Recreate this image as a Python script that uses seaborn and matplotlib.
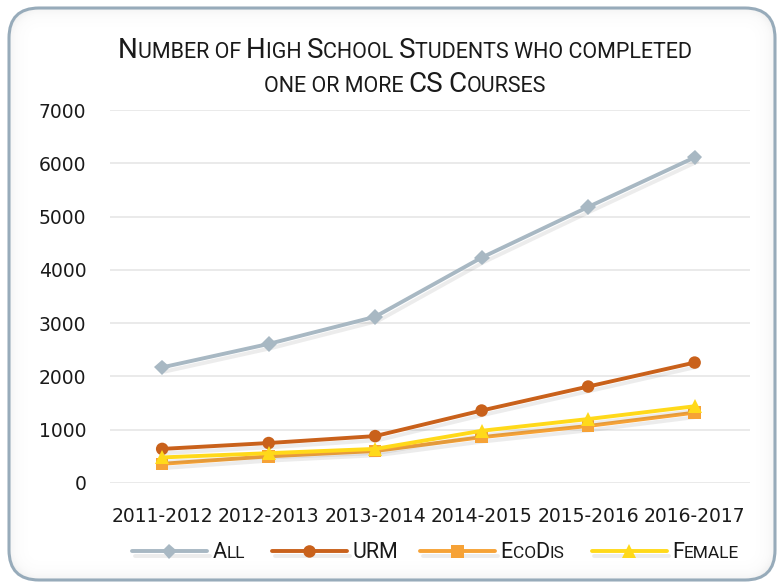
import numpy as np
import pandas as pd
import seaborn as sns
import matplotlib
matplotlib.use("Agg")
import matplotlib.pyplot as plt
from matplotlib import font_manager
from matplotlib.patches import FancyBboxPatch
import matplotlib.patheffects as pe

years = ['2011-2012', '2012-2013', '2013-2014', '2014-2015', '2015-2016', '2016-2017']
all_students = [2170, 2610, 3120, 4230, 5180, 6110]
urm = [640, 750, 880, 1360, 1810, 2260]
ecodis = [360, 500, 600, 860, 1070, 1320]
female = [480, 560, 640, 980, 1200, 1440]
series_names = ['All', 'URM', 'EcoDis', 'Female']
title_lines = ['Number of High School Students who completed', 'one or more CS Courses']
yticks = [0, 1000, 2000, 3000, 4000, 5000, 6000, 7000]

colors = {'All': '#A8B8C3', 'URM': '#C9611B', 'EcoDis': '#F6A236', 'Female': '#FFD91A'}
markers = {'All': 'D', 'URM': 'o', 'EcoDis': 's', 'Female': '^'}
msizes = {'All': 8, 'URM': 9, 'EcoDis': 9, 'Female': 10}

df = pd.DataFrame({
    'year': years * 4,
    'value': all_students + urm + ecodis + female,
    'series': sum([[n] * len(years) for n in series_names], []),
})

sns.set_theme(style='white')
avail = {f.name for f in font_manager.fontManager.ttflist}
tick_font = 'DejaVu Sans'
cond_font = 'Liberation Sans Narrow' if 'Liberation Sans Narrow' in avail else 'Roboto'
plt.rcParams['font.family'] = [tick_font]

W, H = 783, 586
fig = plt.figure(figsize=(W / 100, H / 100), dpi=100)
fig.patch.set_facecolor('white')

# Soft inner glow of the rounded frame (decorative background image)
fx0, fy0, fw, fh, rad = 9, 6, 766, 572, 30
yy, xx = np.mgrid[0:H, 0:W] + 0.5
cx, cy = fx0 + fw / 2, fy0 + fh / 2
qx = np.abs(xx - cx) - (fw / 2 - rad)
qy = np.abs(yy - cy) - (fh / 2 - rad)
dist = np.hypot(np.maximum(qx, 0), np.maximum(qy, 0)) + np.minimum(np.maximum(qx, qy), 0) - rad
glow = np.where(dist < 0, 0.10 * np.exp(dist / 6.0), 0.0)
rgba = np.zeros((H, W, 4))
rgba[..., :3] = 0.45
rgba[..., 3] = glow
fig.figimage(rgba, 0, 0, origin='lower', zorder=0)

fig.add_artist(FancyBboxPatch((fx0, fy0), fw, fh, boxstyle='round,pad=0,rounding_size=%d' % rad,
                              transform=None, facecolor='none', edgecolor='#97ABBA',
                              linewidth=2.2, zorder=1))

ax = fig.add_axes([110 / W, 1 - 483 / H, (750 - 110) / W, (483 - 110) / H])
ax.set_facecolor('none')

sns.lineplot(data=df, x='year', y='value', hue='series', style='series',
             palette=colors, markers=markers, dashes=False, sort=False,
             linewidth=2.8, markeredgewidth=0, ax=ax, legend=False)

shadow = [pe.SimpleLineShadow(offset=(2, -3), shadow_color='#666666', alpha=0.12), pe.Normal()]
for line, name in zip(ax.get_lines(), series_names):
    line.set_markersize(msizes[name])
    line.set_path_effects(shadow)
    line.set_clip_on(False)

ax.set_xlim(-0.49, 5.52)
ax.set_ylim(0, 7000)
ax.set_yticks(yticks)
ax.yaxis.grid(True, color='#E4E4E4', linewidth=1.1)
ax.xaxis.grid(False)
for s in ax.spines.values():
    s.set_visible(False)
ax.tick_params(axis='both', length=0, labelsize=13.5, labelcolor='#1a1a1a')
ax.tick_params(axis='y', pad=17)
ax.tick_params(axis='x', pad=17)
ax.set_xlabel('')
ax.set_ylabel('')

fig.canvas.draw()
renderer = fig.canvas.get_renderer()


def smallcaps(text, x_px, y_px, big, small, family, color='#1a1a1a', ha='center'):
    runs = []
    for ch in text:
        isbig = ch.isupper() or ch.isdigit()
        if runs and runs[-1][1] == isbig:
            runs[-1][0] += ch
        else:
            runs.append([ch, isbig])
    widths = []
    for s, b in runs:
        t = fig.text(0, 0, s.upper(), fontsize=big if b else small, family=family)
        widths.append(t.get_window_extent(renderer).width)
        t.remove()
    total = sum(widths)
    x = x_px - total / 2 if ha == 'center' else x_px
    for (s, b), w in zip(runs, widths):
        fig.text(x / W, y_px / H, s.upper(), fontsize=big if b else small, family=family,
                 color=color, ha='left', va='baseline')
        x += w
    return total


smallcaps(title_lines[0], 405, H - 58, 20, 15.5, cond_font)
smallcaps(title_lines[1], 405, H - 92, 20, 15.5, cond_font)

# Legend
handles = ax.get_lines()[:4]
leg = fig.legend(handles, [n.upper() for n in series_names], loc='center',
                 bbox_to_anchor=(437 / W, 1 - 553 / H), ncol=4, frameon=False,
                 handlelength=4.0, columnspacing=1.45, handletextpad=0.3,
                 prop={'family': cond_font, 'size': 13.5})
fig.canvas.draw()
for t, name in zip(leg.get_texts(), series_names):
    px, py = t.get_transform().transform(t.get_position())
    t.set_alpha(0)
    smallcaps(name, px, py, 15.5, 12.5, cond_font, ha='left')

fig.savefig('out.png', dpi=100, facecolor='white')
